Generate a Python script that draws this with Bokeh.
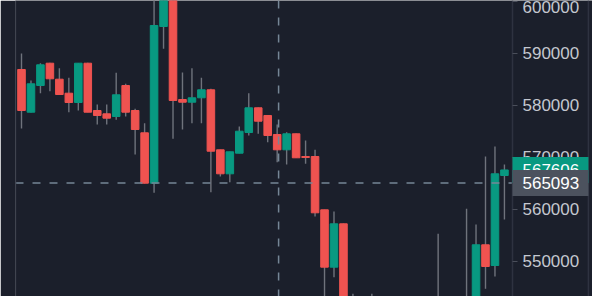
from bokeh.plotting import figure
from bokeh.models import (Range1d, LinearAxis, Span, Label, FixedTicker, BasicTickFormatter,
                          ColumnDataSource, BoxAnnotation)
from bokeh.embed import file_html
from bokeh.resources import INLINE

# ---- data ----
opens = [586923, 578712, 583846, 588135, 585058, 582365, 580577, 588135, 579038, 578400,
         577885, 583846, 579038, 574750, 565058, 595192, 604500, 581154, 580635, 581480,
         583019, 571481, 566865, 570827, 574808, 579558, 578077, 574423, 571481, 574558,
         570192, 570192, 559942, 548904, 557250, 538000, 536500, 534000, 538200, 535000,
         531800, 533500, 537000, 533700, 538000, 541500, 537000, 539500, 541500, 553212,
         549231, 566538]
highs = [590000, 584808, 588135, 588200, 587173, 585327, 588135, 588200, 580192, 580192,
         586288, 584173, 579365, 576596, 601500, 607000, 606000, 586346, 587173, 585327,
         583200, 571500, 571100, 575962, 582365, 579600, 578100, 576346, 574865, 574600,
         573269, 571481, 559942, 559615, 557300, 543800, 540500, 543800, 541000, 539000,
         536000, 538500, 540000, 539500, 555327, 542500, 541000, 560135, 557115, 570192,
         572115, 568654]
lows = [575577, 578654, 582365, 582750, 582000, 578712, 579038, 578700, 576346, 576346,
        577250, 577885, 570577, 565000, 563212, 590904, 573596, 575385, 576596, 576596,
        563327, 566346, 565250, 570800, 574231, 574558, 572942, 569096, 568654, 569900,
        568788, 558654, 541000, 546981, 536000, 533000, 531000, 530500, 533500, 529000,
        527500, 531000, 532000, 531500, 534500, 535500, 533000, 537500, 539000, 544750,
        547115, 558077]
closes = [579038, 584173, 587827, 585135, 582115, 580577, 588135, 578712, 578077, 577560,
          582058, 578712, 575385, 565058, 595385, 604000, 580962, 580635, 581480, 583019,
          571212, 566865, 571096, 575058, 579558, 576981, 574231, 571481, 574558, 569942,
          570000, 559365, 548904, 557250, 538500, 536000, 534000, 538000, 535200, 531500,
          533800, 536800, 533500, 538300, 541500, 537000, 539500, 541800, 553212, 549038,
          566865, 567606]
price_ticks = [550000, 560000, 570000, 580000, 590000, 600000]
crosshair_index = 27.15
crosshair_price = 565093

BG = "#1b1f2b"
UP = "#089981"
DOWN = "#ef5350"
WICK = "#6f737c"
LINE = "#2e3240"

# layout of the pane (in bar-index units)
X_START = -0.634
SCALE_EDGE = 51.85      # where the price scale begins
SCALE_END = 59.87       # right border of the price scale
X_END = 60.30
Y_START, Y_END = 543269, 600192
PLOT_H = 296
BOX_HALF = 13 * (Y_END - Y_START) / PLOT_H   # 13 px in price units

idx = list(range(len(opens)))
colors = [UP if c >= o else DOWN for o, c in zip(opens, closes)]
src = ColumnDataSource(dict(
    x=idx, high=highs, low=lows,
    top=[max(o, c) for o, c in zip(opens, closes)],
    bottom=[min(o, c) for o, c in zip(opens, closes)],
    color=colors,
))

p = figure(width=592, height=PLOT_H, output_backend="svg", toolbar_location=None,
           x_axis_location=None, y_axis_location=None,
           x_range=Range1d(X_START, X_END), y_range=Range1d(Y_START, Y_END),
           min_border_left=15, min_border_right=0, min_border_top=0, min_border_bottom=0)
p.background_fill_color = BG
p.border_fill_color = BG
p.outline_line_color = None
p.grid.visible = False

p.segment(x0="x", y0="low", x1="x", y1="high", source=src, line_color=WICK, line_width=1.4)
p.vbar(x="x", width=0.8, top="top", bottom="bottom", source=src,
       fill_color="color", line_color="color", line_width=1)

# crosshair (horizontal part stops at the price scale)
p.segment(x0=[X_START], y0=[crosshair_price], x1=[SCALE_EDGE], y1=[crosshair_price],
          line_color="#758696", line_width=1.5, line_dash="8 9")
p.add_layout(Span(location=crosshair_index, dimension="height", line_color="#758696",
                  line_width=1.5, line_dash="8 9"))

ax = LinearAxis(ticker=FixedTicker(ticks=price_ticks), fixed_location=SCALE_EDGE,
                formatter=BasicTickFormatter(use_scientific=False))
ax.axis_line_color = LINE
ax.axis_line_width = 1.5
ax.major_tick_line_color = "#4a4e5a"
ax.major_tick_in = 0
ax.major_tick_out = 5
ax.minor_tick_line_color = None
ax.major_label_standoff = 5
ax.major_label_text_color = "#c4c7cf"
ax.major_label_text_font = "Liberation Sans"
ax.major_label_text_font_size = "17px"
p.add_layout(ax, "right")

# pane borders
p.add_layout(Span(location=X_START, dimension="height", line_color=LINE, line_width=1.5))
p.add_layout(Span(location=SCALE_END, dimension="height", line_color=LINE, line_width=1.5))

last_price = closes[-1]
for val, bg in [(last_price, UP), (crosshair_price, "#4c525e")]:
    p.add_layout(BoxAnnotation(left=SCALE_EDGE, right=SCALE_END,
                               bottom=val - BOX_HALF, top=val + BOX_HALF,
                               fill_color=bg, fill_alpha=1.0, line_color=None))
    p.add_layout(Label(x=SCALE_EDGE, y=val, x_offset=10, text=str(val),
                       text_align="left", text_baseline="middle", text_color="#ffffff",
                       text_font="Liberation Sans", text_font_size="17px"))

open("out.html", "w").write(file_html(p, INLINE))
